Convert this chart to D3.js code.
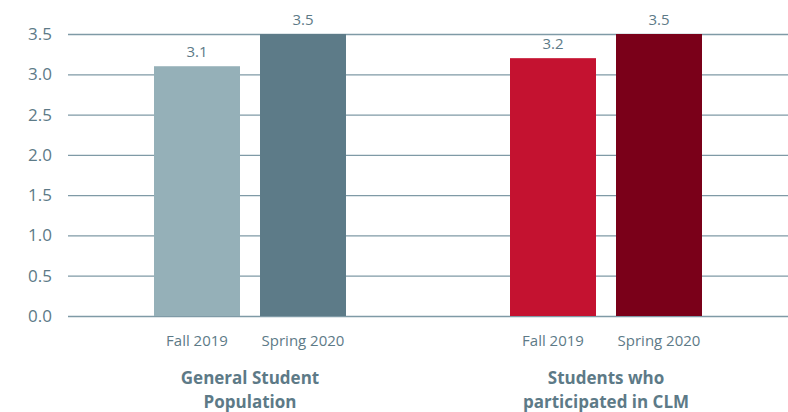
<!DOCTYPE html>
<meta charset="utf-8">
<script src="https://d3js.org/d3.v7.min.js"></script>
<style>
  body { margin: 0; background: #fff; }
  text { font-family: "Open Sans", sans-serif; fill: #5d7a87; }
</style>
<div id="my_dataviz"></div>
<script>

// data
var groups = ["General Student Population", "Students who participated in CLM"];
var groupLines = [["General Student", "Population"], ["Students who", "participated in CLM"]];
var terms = ["Fall 2019", "Spring 2020"];
var values = [[3.1, 3.5], [3.2, 3.5]];
var colors = [["#95b0b8", "#5d7b88"], ["#c41230", "#7a0019"]];
var yTicks = [0, 0.5, 1, 1.5, 2, 2.5, 3, 3.5];

var width = 788, height = 412;

var svg = d3.select("#my_dataviz")
  .append("svg")
    .attr("width", width)
    .attr("height", height);

var y = d3.scaleLinear().domain([0, 3.5]).range([316, 34]);

var x0 = d3.scaleBand().domain(groups).range([72, 784]);
var x1 = d3.scaleBand().domain(terms).range([82, 274]).paddingInner(0.1887);

// gridlines + tick labels
var yAxis = svg.append("g")
  .call(d3.axisLeft(y).tickValues(yTicks).tickFormat(d3.format(".1f")).tickSize(0).tickPadding(0))
yAxis.select(".domain").remove()
yAxis.selectAll(".tick line")
  .attr("x1", 68).attr("x2", width)
  .attr("stroke", "#7f9aa6").attr("stroke-width", 1.3)
yAxis.selectAll(".tick text")
  .attr("x", 52)
  .style("font-size", "17px")
  .style("font-family", "'Open Sans', sans-serif")
  .attr("fill", "#5d7a87")

// bars
groups.forEach(function(g, gi) {
  var gg = svg.append("g").attr("transform", "translate(" + x0(g) + ",0)")
  gg.selectAll("rect")
    .data(terms)
    .enter().append("rect")
      .attr("x", function(t) { return x1(t); })
      .attr("width", x1.bandwidth())
      .attr("y", function(t, i) { return y(values[gi][i]); })
      .attr("height", function(t, i) { return y(0) - y(values[gi][i]); })
      .attr("fill", function(t, i) { return colors[gi][i]; })

  // value labels
  gg.selectAll(".val")
    .data(terms)
    .enter().append("text")
      .attr("class", "val")
      .attr("x", function(t) { return x1(t) + x1.bandwidth() / 2; })
      .attr("y", function(t, i) { return y(values[gi][i]) - 9; })
      .attr("text-anchor", "middle")
      .style("font-size", "15px")
      .text(function(t, i) { return values[gi][i].toFixed(1); })

  // term labels
  gg.selectAll(".term")
    .data(terms)
    .enter().append("text")
      .attr("class", "term")
      .attr("x", function(t) { return x1(t) + x1.bandwidth() / 2; })
      .attr("y", 346)
      .attr("text-anchor", "middle")
      .style("font-size", "15px")
      .text(function(t) { return t; })

  // group label
  gg.selectAll(".grp")
    .data(groupLines[gi])
    .enter().append("text")
      .attr("class", "grp")
      .attr("x", x0.bandwidth() / 2)
      .attr("y", function(d, i) { return 384 + i * 24; })
      .attr("text-anchor", "middle")
      .style("font-size", "17px")
      .style("font-weight", "bold")
      .text(function(d) { return d; })
})

</script>
